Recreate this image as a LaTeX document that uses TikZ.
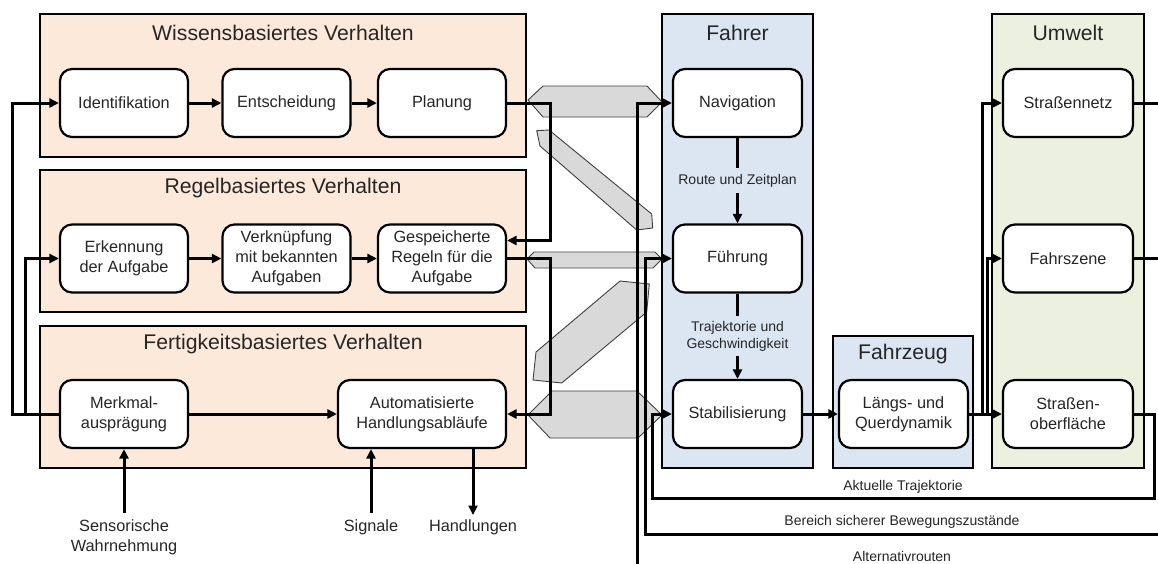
\documentclass[tikz,border=0pt]{standalone}
\usepackage{fontspec}
\setmainfont{Liberation Sans}
\usetikzlibrary{arrows.meta}
\definecolor{peach}{HTML}{FDE9D9}
\definecolor{skyfill}{HTML}{DCE6F2}
\definecolor{leaffill}{HTML}{EBF1DE}
\definecolor{blockgray}{HTML}{D9D9D9}
\definecolor{blockedge}{HTML}{404040}
\definecolor{ink}{HTML}{262626}
\begin{document}
\begin{tikzpicture}[x=1pt,y=-1pt,
  font=\fontsize{16.3}{20}\selectfont, text=ink,
  panel/.style={draw=black, line width=2pt},
  proc/.style={draw=black, line width=2.2pt, fill=white, rounded corners=12pt,
    minimum width=128pt, minimum height=68pt, align=center, inner sep=2pt},
  wire/.style={line width=3pt},
  conn/.style={line width=3pt, -{Triangle[length=9.5pt,width=9pt]}},
  heading/.style={font=\fontsize{21.2}{25}\selectfont},
  small/.style={font=\fontsize{14}{17}\selectfont, align=center},
  gblock/.style={fill=blockgray, draw=blockedge, line width=0.9pt},
]
\fill[white] (0,0) rectangle (1158,563);
\useasboundingbox (0,0) rectangle (1158,563);

% behaviour layers
\path[panel, fill=peach] (40,14) rectangle (526,157);
\path[panel, fill=peach] (40,170) rectangle (526,312);
\path[panel, fill=peach] (40,326) rectangle (526,468);
% driver, vehicle, environment
\path[panel, fill=skyfill] (662,14) rectangle (813,468);
\path[panel, fill=skyfill] (833,336) rectangle (973,468);
\path[panel, fill=leaffill] (992,14) rectangle (1144,468);

\node[heading] (tW) at (283,33) {Wissensbasiertes Verhalten};
\node[heading] (tR) at (283,188) {Regelbasiertes Verhalten};
\node[heading] (tF) at (283,344) {Fertigkeitsbasiertes Verhalten};
\node[heading] (tD) at (737.5,33) {Fahrer};
\node[heading] (tV) at (903,354) {Fahrzeug};
\node[heading] (tU) at (1068,33) {Umwelt};

% block arrows linking the layers with the driving tasks
\draw[gblock] (528,100) -- (543,86) -- (647,86) -- (662,102) -- (647,117) -- (543,117) -- cycle;
\draw[gblock] (527,259) -- (534,252) -- (655,252) -- (662,259) -- (653,268) -- (535,268) -- cycle;
\draw[gblock] (528,415) -- (552,391) -- (637,391) -- (662,415) -- (638,438) -- (550,438) -- cycle;
\draw[gblock] (536.7,130.7) -- (549,130) -- (651.7,214) -- (652.7,228) -- (636.7,230) -- (540,146) -- cycle;
\draw[gblock] (620,281) -- (649.3,284) -- (646.7,312) -- (561.7,383) -- (533,380) -- (536,352) -- cycle;

% process steps
\node[proc] (ident) at (124,103) {Identifikation};
\node[proc] (entsch) at (286.5,103) {Entscheidung};
\node[proc] (plan) at (442,103) {Planung};
\node[proc] (erk) at (124,258.5) {Erkennung\\der Aufgabe};
\node[proc] (verk) at (286.5,258.5) {Verknüpfung\\mit bekannten\\Aufgaben};
\node[proc] (gesp) at (442,258.5) {Gespeicherte\\Regeln für die\\Aufgabe};
\node[proc] (merk) at (124,414) {Merkmal-\\ausprägung};
\node[proc, minimum width=168pt] (auto) at (422,414) {Automatisierte\\Handlungsabläufe};

\node[proc, minimum width=129pt] (nav) at (737.5,103) {Navigation};
\node[proc, minimum width=129pt] (fuehr) at (737.5,258.5) {Führung};
\node[proc, minimum width=129pt] (stab) at (737.5,414) {Stabilisierung};
\node[proc, minimum width=129pt] (laengs) at (903.5,414) {Längs- und\\Querdynamik};
\node[proc, minimum width=130pt] (netz) at (1068,103) {Straßennetz};
\node[proc, minimum width=130pt] (szene) at (1068,258.5) {Fahrszene};
\node[proc, minimum width=130pt] (ober) at (1068,414) {Straßen-\\oberfläche};

% flow inside the layers
\draw[conn] (ident) -- (entsch);
\draw[conn] (entsch) -- (plan);
\draw[conn] (erk) -- (verk);
\draw[conn] (verk) -- (gesp);
\draw[conn] (merk) -- (auto);
\draw[conn] (plan.east) -- (550,103) |- ([yshift=18pt]gesp.east);
\draw[conn] (gesp.east) -- (550,258.5) |- (auto.east);
\draw[conn] (merk.west) -- (12,414) |- (ident.west);
\coordinate (fbSplit) at (25,414);
\draw[conn] (fbSplit) |- (erk.west);

% inputs and outputs of the skill layer
\coordinate (sensIn) at (124,513);
\coordinate (sigIn) at (371,513);
\coordinate (actOut) at (473,515);
\draw[conn] (sensIn) -- (merk.south);
\draw[conn] (sigIn) -- (sigIn |- auto.south);
\draw[conn] (actOut |- auto.south) -- (actOut);
\node[align=center] (sens) at (124,537) {Sensorische\\Wahrnehmung};
\node (sig) at (371,527) {Signale};
\node (act) at (473,527) {Handlungen};

% driving task hierarchy
\draw[conn] (nav) -- node[small, fill=skyfill, inner xsep=1pt, inner ysep=6pt] (lRoute) {Route und Zeitplan} (fuehr);
\draw[conn] (fuehr) -- node[small, fill=skyfill, inner xsep=1pt, inner ysep=5pt] (lTraj) {Trajektorie und\\Geschwindigkeit} (stab);
\draw[conn] (stab) -- (laengs);
\draw[conn] (laengs) -- (ober);
\coordinate (envA) at (982,414);
\coordinate (envB) at (987,414);
\draw[conn] (envA) |- (netz.west);
\draw[conn] (envB) |- (szene.west);

% feedback from the environment
\coordinate (netzOut) at (1158,103);
\coordinate (szeneOut) at (1158,258.5);
\draw[wire] (netz.east) -- (netzOut);
\draw[wire] (szene.east) -- (szeneOut);
\draw[conn] (ober.east) -- (1154,414) |- (652,498) |- (stab.west);
\node[small] (lAkt) at (903,487) {Aktuelle Trajektorie};
\coordinate (safeIn) at (1158,534);
\draw[conn] (safeIn) -- (645,534) |- (fuehr.west);
\node[small] (lSafe) at (902,522) {Bereich sicherer Bewegungszustände};
\coordinate (altIn) at (637,565);
\draw[conn] (altIn) |- (nav.west);
\node[small] (lAlt) at (902,556) {Alternativrouten};
\end{tikzpicture}
\end{document}
